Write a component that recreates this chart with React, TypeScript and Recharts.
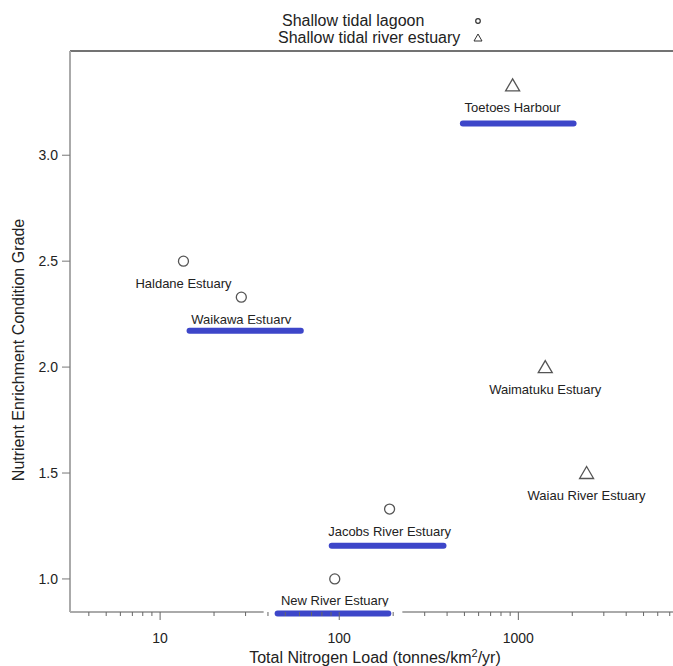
import { ScatterChart, Scatter, XAxis, YAxis, ReferenceLine } from "recharts";

// values
const lagoonSites = ["Haldane Estuary", "Waikawa Estuary", "Jacobs River Estuary", "New River Estuary"];
const lagoonLoad = [13.5, 28.4, 191, 94.4];
const lagoonGrade = [2.5, 2.33, 1.33, 1.0];

const riverSites = ["Toetoes Harbour", "Waimatuku Estuary", "Waiau River Estuary"];
const riverLoad = [929, 1413, 2404];
const riverGrade = [3.33, 2.0, 1.5];

const bandSites = ["Toetoes Harbour", "Waikawa Estuary", "Jacobs River Estuary", "New River Estuary"];
const bandLow = [490, 14.6, 90.8, 45.3];
const bandHigh = [2033, 61, 382, 188];
const bandGrade = [3.15, 2.171, 1.157, 0.837];

const xTicks = [
  4, 5, 6, 7, 8, 9, 10, 20, 30, 40, 50, 60, 70, 80, 90, 100,
  200, 300, 400, 500, 600, 700, 800, 900, 1000, 2000, 3000, 4000, 5000, 6000, 7000,
];
const xTickLabels = [10, 100, 1000];
const yTicks = [1.0, 1.5, 2.0, 2.5, 3.0];

const xDomain = [3.14, 7300];
const yDomain = [0.844, 3.492];

const lagoon = lagoonSites.map((name, i) => ({ name, load: lagoonLoad[i], grade: lagoonGrade[i] }));
const river = riverSites.map((name, i) => ({ name, load: riverLoad[i], grade: riverGrade[i] }));

const ink = "#222";
const markerStroke = "#555";
const bandColor = "#3d46c9";

const XTick = ({ x, y, payload }: any) => {
  const major = xTickLabels.includes(payload.value);
  return (
    <g>
      <line x1={x} x2={x} y1={y} y2={y + (major ? 8 : 4)} stroke="#666" strokeWidth={1} />
      {major && (
        <text x={x} y={y + 31} textAnchor="middle" fontSize={14} fill={ink}>
          {payload.value}
        </text>
      )}
    </g>
  );
};

const Circle = ({ cx, cy, payload }: any) => (
  <g>
    <circle cx={cx} cy={cy} r={5} fill="none" stroke={markerStroke} strokeWidth={1.3} />
    <text x={cx} y={cy + 22} textAnchor="middle" dominantBaseline="central" fontSize={13} fill={ink}>
      {payload.name}
    </text>
  </g>
);

const Triangle = ({ cx, cy, payload }: any) => (
  <g>
    <path
      d={`M${cx},${cy - 6.5} L${cx + 7},${cy + 5.5} L${cx - 7},${cy + 5.5} Z`}
      fill="none"
      stroke={markerStroke}
      strokeWidth={1.3}
    />
    <text x={cx} y={cy + 22} textAnchor="middle" dominantBaseline="central" fontSize={13} fill={ink}>
      {payload.name}
    </text>
  </g>
);

const Band = (props: any) => {
  const { x1, y1, x2, y2 } = props;
  return (
    <g>
      <rect x={x1 - 14} y={y1 - 7} width={x2 - x1 + 28} height={14} fill="#fff" />
      <line x1={x1} y1={y1} x2={x2} y2={y2} stroke={bandColor} strokeWidth={6} strokeLinecap="round" />
    </g>
  );
};

export default function App() {
  return (
    <div style={{ position: "absolute", left: 0, top: 0, fontFamily: "'Liberation Sans', Arial, sans-serif" }}>
      <ScatterChart width={673} height={666} margin={{ top: 51, right: 0, bottom: 24, left: 0 }}>
        <XAxis
          type="number"
          dataKey="load"
          scale="log"
          domain={xDomain}
          allowDataOverflow
          ticks={xTicks}
          interval={0}
          tick={<XTick />}
          tickLine={false}
          tickSize={0}
          tickMargin={0}
          height={30}
          axisLine={{ stroke: "#aaa", strokeWidth: 2 }}
        />
        <YAxis
          type="number"
          dataKey="grade"
          domain={yDomain}
          allowDataOverflow
          ticks={yTicks}
          interval={0}
          width={70}
          tickFormatter={(v: number) => v.toFixed(1)}
          tick={{ fontSize: 14, fill: ink }}
          tickSize={8}
          tickMargin={4}
          tickLine={{ stroke: "#777" }}
          axisLine={{ stroke: "#aaa", strokeWidth: 2 }}
        />
        <ReferenceLine y={yDomain[1]} stroke="#444" strokeWidth={1.5} ifOverflow="visible" />
        <Scatter data={lagoon} shape={<Circle />} isAnimationActive={false} />
        <Scatter data={river} shape={<Triangle />} isAnimationActive={false} />
        {bandSites.map((site, i) => (
          <ReferenceLine
            key={site}
            segment={[
              { x: bandLow[i], y: bandGrade[i] },
              { x: bandHigh[i], y: bandGrade[i] },
            ]}
            ifOverflow="visible"
            shape={<Band />}
            zIndex={700}
          />
        ))}
        <text x={18} y={350} transform="rotate(-90 18 350)" textAnchor="middle" dominantBaseline="central" fontSize={16} fill={ink}>
          Nutrient Enrichment Condition Grade
        </text>
        <text x={375} y={663} textAnchor="middle" fontSize={16} fill={ink}>
          Total Nitrogen Load (tonnes/km
          <tspan fontSize={11} dy={-6}>2</tspan>
          <tspan dy={6}>/yr)</tspan>
        </text>
        <text x={282} y={26} fontSize={16} fill={ink}>Shallow tidal lagoon</text>
        <text x={278} y={43} fontSize={16} fill={ink}>Shallow tidal river estuary</text>
        <circle cx={478} cy={21} r={2.3} fill="none" stroke="#333" strokeWidth={1.2} />
        <path d="M478,34 L482,41 L474,41 Z" fill="none" stroke="#333" strokeWidth={1} />
      </ScatterChart>
    </div>
  );
}
